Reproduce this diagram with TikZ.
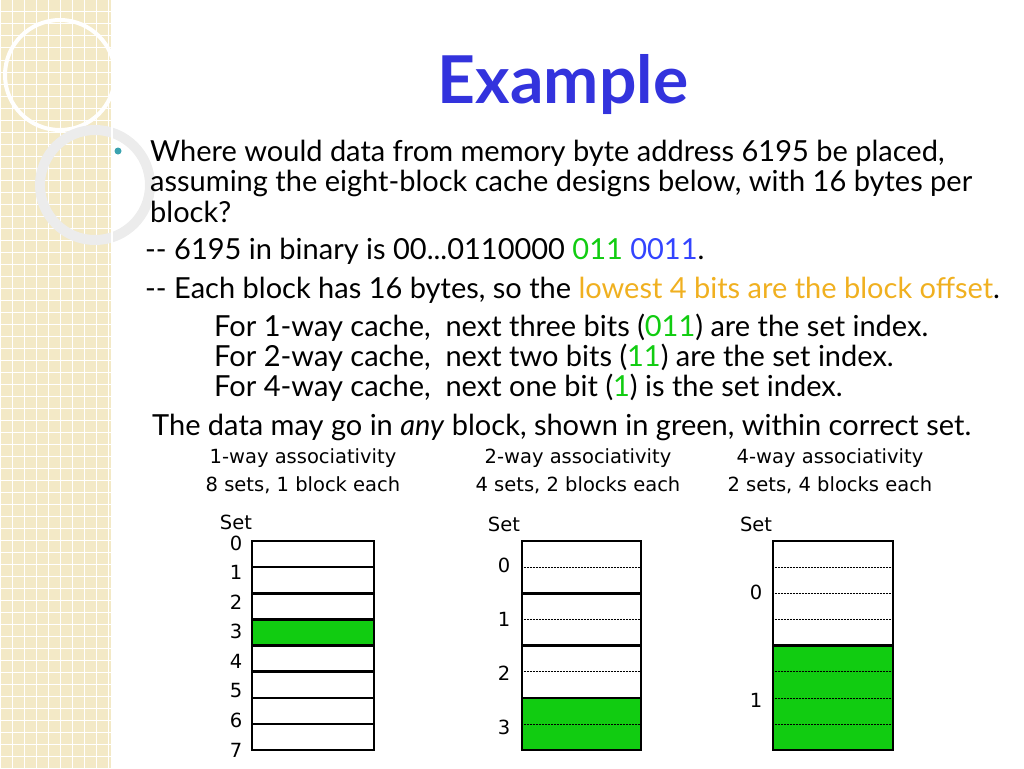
\documentclass[tikz,border=0pt]{standalone}
\usepackage{fontspec}
\setmainfont{Lato}
\newfontfamily\smallf{DejaVu Sans}
\definecolor{tblue}{HTML}{3333DD}
\definecolor{gr}{HTML}{11CC11}
\definecolor{bl}{HTML}{3344FF}
\definecolor{orng}{HTML}{F0B020}
\definecolor{beige}{HTML}{F3E9C6}
\definecolor{teal}{HTML}{3BA3B0}
\tikzset{
 body/.style={anchor=west,inner sep=0pt,font=\fontsize{29}{32}\selectfont},
 sm/.style={inner sep=0pt,font=\smallf\fontsize{19.5}{22}\selectfont},
 blk/.style={draw,line width=2.5pt},
 dot/.style={densely dotted,line width=0.5pt},
}
\begin{document}
\begin{tikzpicture}[x=1pt,y=-1pt]
\useasboundingbox (0,0) rectangle (1024,768);
% left decoration
\fill[beige] (0,0) rectangle (112,768);
\foreach \i in {0,12,...,112} \draw[white,line width=1pt] (\i,0) -- (\i,768);
\foreach \j in {0,12,...,768} \draw[white,line width=1pt] (0,\j) -- (112,\j);
\draw[white,line width=4pt] (60,75) circle (55);
\draw[white!85!gray,line width=10pt] (95,185) circle (55);
\draw[white,line width=2pt] (112,0) -- (112,768);
% title
\node[inner sep=0pt,text=tblue,font=\bfseries\fontsize{66}{72}\selectfont] (title) at (563,85) {Example};
\fill[teal] (118,151) circle (3.5);
\node[body] (l1) at (150,153) {Where would data from memory byte address 6195 be placed,};
\node[body] (l2) at (150,183) {assuming the eight-block cache designs below, with 16 bytes per};
\node[body] (l3) at (150,212) {block?};
\node[body] (l4) at (145,251) {{-}{-} 6195 in binary is 00...0110000 \textcolor{gr}{011} \textcolor{bl}{0011}.};
\node[body] (l5) at (145,290) {{-}{-} Each block has 16 bytes, so the \textcolor{orng}{lowest 4 bits are the block offset}.};
\node[body] (l6) at (214,328) {For 1-way cache,\ \ next three bits (\textcolor{gr}{011}) are the set index.};
\node[body] (l7) at (214,358) {For 2-way cache,\ \ next two bits (\textcolor{gr}{11}) are the set index.};
\node[body] (l8) at (214,388) {For 4-way cache,\ \ next one bit (\textcolor{gr}{1}) is the set index.};
\node[body] (l9) at (152,427) {The data may go in \textit{any} block, shown in green, within correct set.};
% headings
\node[sm] (h1a) at (303,458) {1-way associativity};
\node[sm] (h1b) at (303,485) {8 sets, 1 block each};
\node[sm] (h2a) at (578,458) {2-way associativity};
\node[sm] (h2b) at (578,485) {4 sets, 2 blocks each};
\node[sm] (h3a) at (830,458) {4-way associativity};
\node[sm] (h3b) at (830,485) {2 sets, 4 blocks each};
\node[sm] (s1) at (236,522) {Set};
\node[sm] (s2) at (504,524) {Set};
\node[sm] (s3) at (756,524) {Set};
% grid 1
\foreach \k in {0,...,7}{
 \pgfmathsetmacro\ya{541+\k*26.125}
 \pgfmathsetmacro\yb{541+(\k+1)*26.125}
 \ifnum\k=3 \fill[gr] (252,\ya) rectangle (374,\yb);\fi
 \draw[blk] (252,\ya) rectangle (374,\yb);
 \node[sm] (a\k) at (236,543+\k*29.6) {\k};
}
% grid 2
\foreach \k in {0,...,3}{
 \pgfmathsetmacro\ya{541+\k*52.25}
 \pgfmathsetmacro\yb{541+(\k+1)*52.25}
 \ifnum\k=3 \fill[gr] (522,\ya) rectangle (641,\yb);\fi
 \draw[dot] (522,\ya+26.125) -- (641,\ya+26.125);
 \draw[blk] (522,\ya) rectangle (641,\yb);
 \node[sm] (b\k) at (504,565+\k*54) {\k};
}
% grid 3
\foreach \k in {0,1}{
 \pgfmathsetmacro\ya{541+\k*104.5}
 \pgfmathsetmacro\yb{541+(\k+1)*104.5}
 \ifnum\k=1 \fill[gr] (773,\ya) rectangle (893,\yb);\fi
 \foreach \q in {1,2,3} \draw[dot] (773,\ya+\q*26.125) -- (893,\ya+\q*26.125);
 \draw[blk] (773,\ya) rectangle (893,\yb);
 \node[sm] (c\k) at (756,592+\k*108) {\k};
}
\end{tikzpicture}
\end{document}
